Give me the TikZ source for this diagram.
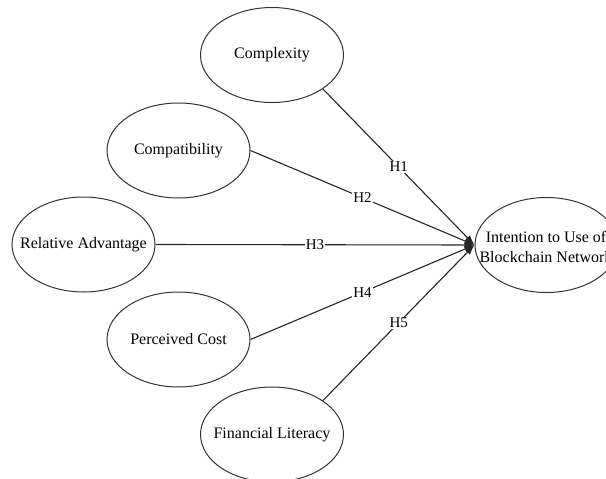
\documentclass[tikz,border=0pt]{standalone}
\usepackage{fontspec}
\setmainfont{Liberation Serif}
\usetikzlibrary{shapes.geometric,arrows.meta}
\begin{document}
\begin{tikzpicture}[x=1pt,y=-1pt,
  ell/.style={ellipse,draw=black!80,line width=1pt,minimum width=143pt,minimum height=95pt,inner sep=0pt},
  txt/.style={font=\fontsize{16}{20}\selectfont,inner sep=0pt,align=center},
  hyp/.style={font=\fontsize{15}{18}\selectfont,fill=white,inner sep=1pt},
  link/.style={draw=black!85,line width=1.1pt,-{Latex[length=10pt,width=7pt]}}]
\useasboundingbox (0,0) rectangle (606,479);
\clip (0,0) rectangle (606,479);
\node[ell] (cx) at (272,55) {};
\node[txt] (cxT) at (cx.center) {Complexity};
\node[ell] (cp) at (178.5,150.5) {};
\node[txt] (cpT) at (cp.center) {Compatibility};
\node[ell] (ra) at (83.5,244.5) {};
\node[txt] (raT) at (ra.center) {Relative Advantage};
\node[ell] (pc) at (178.5,339.5) {};
\node[txt] (pcT) at (pc.center) {Perceived Cost};
\node[ell] (fl) at (272,434.5) {};
\node[txt] (flT) at (fl.center) {Financial Literacy};
\node[ell] (in) at (546.5,245) {};
\node[txt] (inT) at (546,247) {Intention to Use of\\Blockchain Network};
\draw[link] (cx.south east) -- node[hyp] {H1} (in.west);
\draw[link] (cp.east) -- node[hyp] {H2} (in.west);
\draw[link] (ra.east) -- node[hyp] {H3} (in.west);
\draw[link] (pc.east) -- node[hyp] {H4} (in.west);
\draw[link] (fl.north east) -- node[hyp] {H5} (in.west);
\end{tikzpicture}
\end{document}
